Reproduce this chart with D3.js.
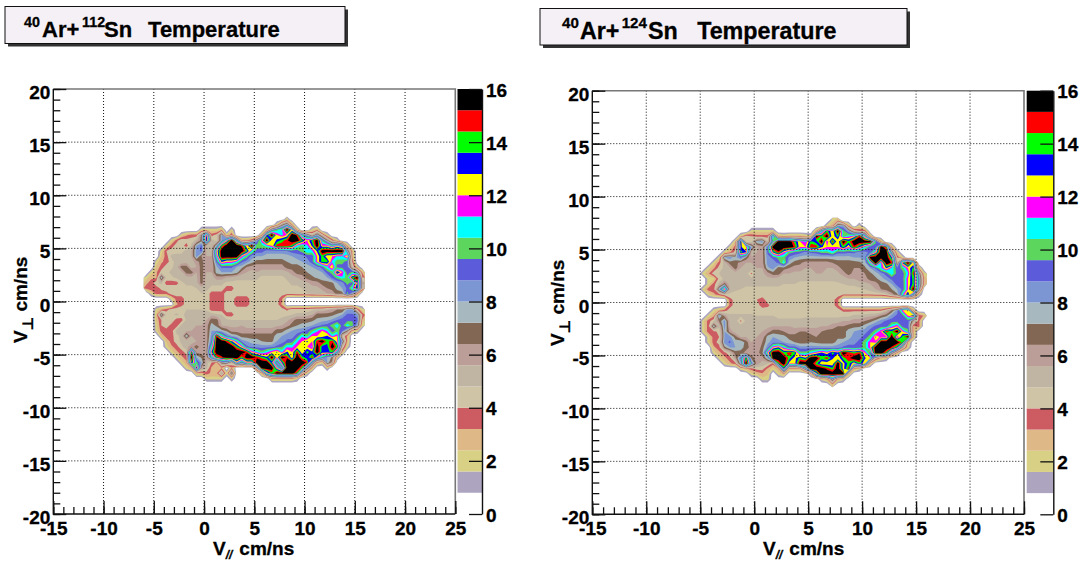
<!DOCTYPE html>
<html>
<head>
<meta charset="utf-8">
<title>Ar+Sn Temperature</title>
<script src="https://cdn.jsdelivr.net/npm/d3@7"></script>
<style>
    html, body { margin: 0; padding: 0; background: #fff; }
    svg { display: block; }
    text { font-family: "Liberation Sans", Arial, sans-serif; font-weight: bold; fill: #000; stroke: #000; stroke-width: 0.3px; }
</style>
</head>
<body>
<svg id="chart" width="1082" height="564"></svg>
<script>
// bin centres of the temperature maps, 0.5 cm/ns wide
const vParBins = [-5.75, -5.25, -4.75, -4.25, -3.75, -3.25, -2.75, -2.25, -1.75, -1.25, -0.75, -0.25, 0.25, 0.75, 1.25, 1.75, 2.25, 2.75, 3.25, 3.75, 4.25, 4.75, 5.25, 5.75, 6.25, 6.75, 7.25, 7.75, 8.25, 8.75, 9.25, 9.75, 10.25, 10.75, 11.25, 11.75, 12.25, 12.75, 13.25, 13.75, 14.25, 14.75, 15.25, 15.75];
const vPerpBins = [7.75, 7.25, 6.75, 6.25, 5.75, 5.25, 4.75, 4.25, 3.75, 3.25, 2.75, 2.25, 1.75, 1.25, 0.75, 0.25, -0.25, -0.75, -1.25, -1.75, -2.25, -2.75, -3.25, -3.75, -4.25, -4.75, -5.25, -5.75, -6.25, -6.75, -7.25, -7.75];

// 40Ar+112Sn, one row per vPerpBins entry
const tempSn112 = [
    [0,0,0,0, 0,0,0,0, 0,0,0,0, 0,0,0,0, 0,0,0,0, 0,0,0,0, 0,0,0,0, 2,0,0,0, 0,0,0,0, 0,0,0,0, 0,0,0,0],
    [0,0,0,0, 0,0,0,0, 0,0,0,0, 0,0,0,0, 0,0,0,0, 0,0,0,0, 0,0,2,6, 8,3,0,0, 0,0,0,0, 0,0,0,0, 0,0,0,0],
    [0,0,0,0, 0,0,0,0, 0,0,0,2, 2,2,2,3, 0,2,0,0, 0,0,0,0, 3,8,10,11, 16,12,3,0, 0,2,3,0, 0,0,0,0, 0,0,0,0],
    [0,0,0,0, 0,0,0,2, 3,3.6,3.6,6.8, 13,3.6,4.4,8, 2,4,0,0, 0,0,0,3, 13,16,12,11, 12,16,15,10, 8,5,8,5, 2,0,0,0, 0,0,0,0],
    [0,0,0,0, 0,2,3.6,4.8, 4.4,4.4,5.2,6.8, 14,5.2,4.4,8, 12,16,10,3, 3,4,8,12, 16,12,13,14, 15,16,16,14, 12,14,16,10, 7,4,2,0, 0,0,0,0],
    [0,0,0,0, 2,3.6,4.4,4.4, 3.6,5,8,9, 5.2,5.2,8,14, 16,16,16,15, 12,16,10,10, 11,12,15,15, 15,14,11,10, 11,13,16,12, 12,10,12,10, 3,0,0,0],
    [0,0,0,2, 4,4.4,4.4,4.4, 5.2,5.6,8.4,9, 5.2,5.2,12,16, 16,16,16,16, 14,11,9.2,9.2, 8.4,8.4,8.4,8.4, 8.8,9.2,9.2,10, 11,11,13,16, 16,16,16,16, 8,3,0,0],
    [0,0,0,2.5, 3.6,5,5.2,5.2, 5.2,5.6,8.4,6.4, 5.6,5.6,11,16, 16,16,16,12, 10,8.4,8,8, 7.6,7.6,7.6,7.6, 7.6,8,8.4,8.4, 9,9,12,14, 12,12,11,11, 13,3,0,0],
    [0,0,2,3, 3.6,4.4,5.2,5, 5.2,5.2,6,6.8, 5.6,5.6,9,13, 12,12,11,9, 8.4,7.6,6.8,6.8, 6.8,6.8,6.8,6.8, 7.2,7.6,7.6,8, 8.4,9.2,12,14, 14,11,10,10, 9,4,0,0],
    [0,0,2.5,3.6, 4.4,4.6,5.2,6.8, 6.8,5.2,5.6,6.8, 5.6,5.6,7.8,9, 9,9,8,7.6, 6.4,6,6,6, 6,6,6,6, 6.8,6.8,6.8,7.2, 7.6,8,8.4,9.2, 11,13,9.2,9.2, 9.2,5,2,0],
    [0,2,3,4.4, 4.6,5,5.2,5.2, 6.8,6.8,5.6,6.8, 5.6,5.6,7.6,8, 8,8,7.6,6, 5.6,5.2,5.6,5.2, 5.2,5.2,5.2,5.2, 5.4,6,6.8,6.8, 7.2,7.6,7.6,8, 9.2,10,14,12, 9,10,8,3],
    [2,3,3,8, 4.6,4.6,5,5.2, 5.2,5.4,5.4,6.8, 5.2,5.2,6,6, 5.6,5.4,5,5, 5,5,5,4.6, 4.6,4.6,4.6,4.6, 5,5.2,5.6,6, 6.8,7,7.4,7.6, 8,9,10,11, 10,14,16,4],
    [3,3.6,4.6,5, 3.6,3.6,3.6,4.6, 5,5,5.2,6.8, 5.2,5,5,5, 4.6,4.6,4.6,4.6, 4.6,4.6,4.6,4.6, 4.6,4.6,4.6,4.6, 4.6,5,5,5.2, 5.4,6,6,6.8, 6.8,7,8,8.4, 10,9,13,6],
    [3.6,4,3.6,4.2, 4.6,4.6,4.6,4.6, 4.6,4.6,4.8,5.2, 5,4.6,4.6,4.6, 3.6,3.6,4.6,4.6, 4.6,4.6,4.6,4.6, 4.6,4.6,4.6,4.6, 4.6,4.6,4.6,4.8, 5,5.2,5.4,5.8, 6.4,6.8,7.4,8, 9,11,14,5],
    [0,2,3.6,3.6, 3.6,4.4,4.4,4.4, 4.4,4.6,4.6,4.8, 4.6,3.6,3.6,3.6, 4.4,4.4,4.4,4.4, 4.4,4.4,4.4,4.4, 4.4,4.4,4.4,4.4, 4.4,4.4,4.6,4.6, 4.8,5,5.2,5.2, 5.6,5.8,6.8,6.8, 10,8,3.6,0],
    [0,0,0,0, 0,2,3.6,3.6, 4.4,4.4,4.2,4.6, 4.6,3.6,3.6,3.6, 4.4,4.4,3.6,3.6, 3.6,4.4,4.4,4.4, 4.4,4.4,4.4,3.4, 0,0,0,0, 0,0,0,0, 0,0,0,0, 0,0,0,0],
    [0,0,0,0, 0,0,3,3.6, 4.4,4.4,4.4,4.6, 4.6,3.6,3.6,3.6, 4.4,4.4,3.6,3.6, 3.6,4.4,4.4,4.4, 4.4,4.4,4.4,3, 0,0,0,0, 0,0,0,0, 0,0,0,0, 0,0,0,0],
    [0,0,2,3, 3.6,4.4,4.4,4.6, 4.8,4.8,4.8,4.8, 4.6,3.6,3.6,3.6, 4.4,4.4,4.4,4.4, 4.4,4.4,4.4,4.4, 4.4,4.4,4.4,4.4, 3.8,4.4,4.4,4.4, 4.4,4.6,5,5, 5.4,5.8,6.4,6.4, 8,8,4,2],
    [0,0,2.5,8, 4.6,4.6,5,4.6, 5,5,5,5.2, 5.4,5.4,5,4.8, 3.6,3.6,4.6,4.6, 4.6,4.6,4.6,4.6, 4.6,4.6,4.6,4.6, 4.6,4.8,5,5, 5.2,5.6,6.8,6.8, 6.8,7,7.4,8, 9,9,8.4,4],
    [0,0,2.5,4, 4.6,4.8,3.6,3.6, 5,5,5.2,5.4, 5.6,6.8,6.8,5.2, 5,4.8,4.8,4.8, 4.8,4.8,4.8,4.8, 4.8,4.8,4.8,5, 5.4,6,6.8,6.8, 6.8,7,7.4,7.6, 7.8,8.2,8.8,9.2, 9.2,9.5,9,3],
    [0,0,2,4, 4.6,3.6,3.6,5, 5.2,5.4,5.6,5.6, 6,7.6,7,5.6, 5.4,5.4,5.4,5.6, 5.2,5.2,5.2,5.2, 5.2,5.2,5.4,5.6, 6,6.8,7.2,7.5, 7.6,8,8.4,9, 9.2,10,11,9.2, 11,10,8,2],
    [0,0,2,3.6, 3.6,3.6,5,5, 5.4,5.6,5.6,6, 6,8,8,7.6, 7,6,6,6, 6,6,6,6, 6,6,6.8,6.8, 7.6,8,8.4,8.4, 9,10,11,12, 11,9,10,9, 7,3,2,0],
    [0,0,0,2.5, 3.6,3.6,4.6,5, 8,5.6,5.6,6, 6,8.4,15,11, 9,8,7.6,6.8, 6.8,6.8,6.8,6.8, 6.8,6.8,7.6,8, 8.4,8.4,9.2,11, 10,12,12,12, 13,11,12,5, 3,0,0,0],
    [0,0,0,0, 2.5,3.6,4.4,5, 5,5.2,5.6,6, 6,9,16,16, 15,13,11,8.5, 8,7.6,7.6,7.2, 7,7,8,8.4, 9,9.2,11,12, 13,12,15,16, 14,15,12,8, 3,0,0,0],
    [0,0,0,0, 2,3,3.6,4.6, 5.4,6,6.8,6, 6,11,16,16, 16,16,14,12, 9,8.6,8.4,8.4, 8.4,8.6,9,9.5, 11,11,12,12, 12,11,16,13.2, 13.2,16,14,5, 2,0,0,0],
    [0,0,0,0, 0,2,3,3.6, 4.4,14,6,6, 6.4,13,16,16, 16,16,16,16, 15,12,11,10, 11,12,13,11, 13,12,15,12, 14,13,16,13.2, 13.2,14,10,3, 0,0,0,0],
    [0,0,0,0, 0,0,2,3, 3.6,16,8,7, 6,10,14,15, 16,16,16,14, 16,16,15,14, 13,16,12,16, 15,12,16,14, 13,15,12,10, 8,7,2,0, 0,0,0,0],
    [0,0,0,0, 0,0,0,2, 3,14,10,8, 5.2,4,3,7, 8,5,12,9, 12,12,16,16, 16,13,8,13, 16,16,16,16, 15,9,3,2, 8,6,0,0, 0,0,0,0],
    [0,0,0,0, 0,0,0,0, 2,3,14,6, 5,3,2.5,3, 0,3,0,0, 0,0,6,16, 16,16,12,8, 16,16,16,14, 8,3,0,0, 2,0,0,0, 0,0,0,0],
    [0,0,0,0, 0,0,0,0, 0,0,3,3, 3.6,3,3,6, 2,8,0,0, 0,0,0,3, 12,14,16,16, 16,16,14,5, 2,0,0,0, 0,0,0,0, 0,0,0,0],
    [0,0,0,0, 0,0,0,0, 0,0,0,0, 2,2,2,2, 0,2,0,0, 0,0,0,0, 0,3,3,3, 3,3,2,0, 0,0,0,0, 0,0,0,0, 0,0,0,0],
    [0,0,0,0, 0,0,0,0, 0,0,0,0, 0,0,0,0, 0,0,0,0, 0,0,0,0, 0,0,0,0, 0,0,0,0, 0,0,0,0, 0,0,0,0, 0,0,0,0]
];

// 40Ar+124Sn, same binning
const tempSn124 = [
    [0,0,0,0, 0,0,0,0, 0,0,0,0, 0,0,0,0, 0,0,0,0, 0,0,0,0, 0,0,2,3, 0,0,0,0, 0,0,0,0, 0,0,0,0, 0,0,0,0],
    [0,0,0,0, 0,0,0,0, 0,0,0,0, 0,0,0,0, 0,0,0,0, 0,0,0,0, 0,2,3,8, 8,3,0,2, 0,0,0,0, 0,0,0,0, 0,0,0,0],
    [0,0,0,0, 0,0,0,0, 0,0,0,2, 2,2,2,2, 0,0,0,0, 0,0,0,3, 10,14,12,16, 10,8,5,4, 4,0,0,0, 0,0,0,0, 0,0,0,0],
    [0,0,0,0, 0,0,0,0, 0,2.5,4.5,4, 3.6,3.6,3.6,12, 3,2.5,3,3, 3,2.5,2,16, 14,16,12,14, 10,11,12,15, 11,3,0,0, 0,0,0,0, 0,0,0,0],
    [0,0,0,0, 0,0,0,0, 2.5,14,4.4,4.4, 8,8.4,5,10, 16,16,16,14, 12,11,14,13, 16,11,15,12, 16,14,16,16, 16,16,10,3, 0,0,0,0, 0,0,0,0],
    [0,0,0,0, 0,0,0,2, 3.6,13,12,8, 5.5,6,9,16, 16,16,16,15, 12,12,15,15, 13,12,12,12, 14,12,15,13, 11,9,9,16, 14,3,0,0, 0,0,0,0],
    [0,0,0,0, 0,0,2,3, 4.4,14,13,5.2, 5.6,6,9,13, 15,12,10,9.5, 9.2,8.5,9,9.2, 10,10,11,9.2, 9.2,9,9,8.5, 8.5,9,12,16, 16,8,2,0, 0,0,0,0],
    [0,0,0,0, 0,2,8,8.5, 7.6,9,7,5.6, 5.6,6,8.5,9, 10,10,8.5,8, 7.6,7.6,7.6,7.6, 7.6,7.6,7.6,7.6, 7.6,7.6,8,8, 8.4,16,16,16, 16,13,4,2, 0,0,0,0],
    [0,0,0,0, 2,3.6,5.2,6.8, 6.8,6,5.6,5.6, 5.6,6,8.4,8.4, 9,11,7.6,6.8, 6.6,6,6,6, 6,6,6.4,6.8, 6.8,6.8,6.8,7, 7.6,11,16,11, 16,15,5,13, 16,12,0,0],
    [0,0,0,2, 3,4.4,5,5.4, 6.8,5.6,5.4,5.4, 5.6,5.6,7.8,8.4, 6.8,6.8,6.4,6, 6,5.6,5.6,5.6, 5.6,5.6,5.6,6, 6.8,6.8,6.4,6.4, 7,8,9,11, 13,11,9,10, 12,14,3,0],
    [0,0,2,3, 4.6,4.8,5,5.2, 5.2,5.2,5.2,3.8, 5.2,5.4,6,6.8, 6.8,5.6,5.6,5.4, 5.4,5.2,5.2,5.6, 5.6,5.4,5.4,5.4, 6,6.8,6,6, 6.4,7,7.6,8.4, 9.2,11,9.2,9.2, 11,15,8,2],
    [0,0,0,2, 2,4.4,5,5.2, 5.2,5.2,5.2,5, 5.2,5.2,5.4,5.4, 5.2,5.2,5,5, 5,5,5,5, 5,5,5,5.2, 5.2,5.6,5.6,6, 6,6.8,7,7.6, 8.4,9,9.2,9.2, 12,14,9.2,3],
    [0,0,0,2, 3.6,5,6.8,5.2, 5,5,5,5, 5,5,5,5, 5,4.8,4.8,4.8, 4.6,4.6,4.6,4.6, 4.6,4.6,4.6,4.6, 4.8,5,5,5.2, 5.4,5.6,6,6.8, 7,8,9.2,9, 12,14,9.2,3],
    [0,0,2,3.6, 3.6,8,13,5.4, 5,4.8,4.6,4.6, 4.6,4.6,4.6,4.6, 4.6,4.6,4.6,4.6, 4.4,4.4,4.4,4.4, 4.4,4.4,4.4,4.4, 4.4,4.4,4.4,4.6, 4.8,5.2,5.6,6.4, 6.8,7.2,8,9, 12,16,8,0],
    [0,0,0,2, 3,3.6,4.6,4.6, 4.4,4.4,4.4,4.4, 4.4,4.4,4.4,4.4, 4.4,4.4,4.4,4.4, 4.4,4.4,4.4,4.4, 4.4,4.4,4.4,4.4, 4,4,4,4, 4,4,4.2,4.2, 4.6,6,7,11, 14,9,2,0],
    [0,0,0,0, 0,0,0,3.6, 4.4,4.4,4.4,4.4, 4,3.6,4.4,4.4, 4.4,4.4,4.4,4.4, 4.4,4.4,4.4,4.4, 4.4,4.4,4.4,3.4, 0,0,0,0, 0,0,0,0, 0,0,0,0, 0,0,0,0],
    [0,0,0,0, 0,0,0,3.6, 4.4,4.4,4.4,4.4, 4.4,3.6,3.8,4.4, 4.4,4.4,4.4,4.4, 4.4,4.4,4.4,4.4, 4.4,4.4,4.4,3.4, 0,0,0,0, 0,0,0,0, 0,0,0,0, 0,0,0,0],
    [0,0,0,0, 2,3,3.6,4.4, 4.4,4.4,4.4,4.4, 4.4,4.4,4.4,4.4, 4.4,4.4,4.4,4.4, 4.4,4.4,4.4,4.4, 4.4,4.4,4.4,4.4, 3.8,3.8,3.8,3.8, 3.8,3.8,3.8,3.8, 5,6.5,8.4,12, 13,3,0,0],
    [0,0,0,2, 3,8.4,6,5, 5,5,5,5, 4.8,4.8,4.8,4.8, 4.6,4.6,4.6,4.6, 4.6,4.6,4.6,4.6, 4.6,4.6,4.6,4.6, 4.6,4.6,5,5, 5.2,5.4,5.6,6.4, 7,8.4,9,9.2, 12,14,4,3],
    [0,0,2,3.6, 4.6,6.5,8.4,5.2, 5.2,3.8,5,5, 5,5,5,5, 5,5,5,5, 5,5.2,5.2,5.2, 5.2,5.2,5.2,5.2, 5.6,5.6,6,6, 6.4,6.8,7.6,8.4, 9,9.2,9.2,9.2, 9.2,6,3.6,0],
    [0,0,2,3.6, 8,5,8.4,5.4, 5.2,5.2,5.2,5.2, 5,5.2,5.4,5.6, 5.6,5.6,5.6,5.4, 5.4,5.4,5.4,5.4, 5.6,5.6,6,6.4, 6.4,6.8,7,7, 7.6,8.4,9,9.2, 9.2,11,12,9.2, 9.2,3,3.6,0],
    [0,0,2,3.6, 3.6,4.4,8,6, 5.2,5.4,5.2,5.2, 5.4,5.6,6,6.8, 6.8,6.4,6,6, 6.4,6.4,6,6, 6.4,6.8,6.8,6.8, 6.8,7.6,8,8.4, 8.4,9.2,10,12, 15,14,16,12, 10,3,0,0],
    [0,0,0,2, 3.6,4,8,8.4, 6.8,5.6,5.6,5.4, 5.6,5.8,7.6,8, 7.6,7.6,6.8,6.8, 6.8,6.8,6.8,6.4, 6.8,6.8,6.8,7, 6.8,7.6,8.4,8.4, 9.2,10,13,11.6, 11.6,16,11,14, 16,3,0,0],
    [0,0,0,2, 3.6,4.4,8.4,9, 7.6,8,6.8,5.6, 5.6,6.4,7.8,8.4, 8.4,8,7.6,7.2, 6.8,6.8,7.2,7, 6.8,6.8,6.8,7.6, 8,8.4,8.4,9.2, 10,12,11.6,16, 16,16,16,14, 3,0,0,0],
    [0,0,0,0, 3,3.6,6.8,8, 8,7.6,6.8,6, 5.6,6.8,8.5,12, 13,11,9.2,9.2, 8.4,8.4,8.4,8.4, 8.4,8.4,8.4,8.4, 9,9.2,9.2,9.2, 10,12,16,16, 16,15,13,6, 2,0,0,0],
    [0,0,0,0, 2,3,3.6,5, 6.8,6.8,6,6, 6,7,12,16, 16,14,15,14, 10,10,11,12, 13,12,14,13, 16,15,14,15, 12,9,16,16, 14,8,3,0, 0,0,0,0],
    [0,0,0,0, 0,2,3,3.6, 6,9,14,6.8, 6,6,8,16, 16,16,14,12.4, 14,13,16,16, 14,15,13,12, 14,15,16,16, 13,12,5,3, 2,0,0,0, 0,0,0,0],
    [0,0,0,0, 0,0,2,3, 3.6,8,16,9, 6,5.2,5,3.6, 14,16,12.4,12.4, 16,16,16,14, 12,12,12,16, 12.4,14,12,14, 12,3,0,0, 0,0,0,0, 0,0,0,0],
    [0,0,0,0, 0,0,0,0, 0,2,3,3.6, 4.4,4.4,3,2, 3,13,3,3, 3,8,16,16, 16,15,14,16, 12.4,15,3,2, 0,0,0,0, 0,0,0,0, 0,0,0,0],
    [0,0,0,0, 0,0,0,0, 0,0,0,2, 2.5,3,2.5,0, 2,3,0,0, 0,0,2,12, 16,16,16,16, 16,3,0,0, 0,0,0,0, 0,0,0,0, 0,0,0,0],
    [0,0,0,0, 0,0,0,0, 0,0,0,0, 0,2,2,0, 0,0,0,0, 0,0,0,0, 2,3,8,3, 2,0,0,0, 0,0,0,0, 0,0,0,0, 0,0,0,0],
    [0,0,0,0, 0,0,0,0, 0,0,0,0, 0,0,0,0, 0,0,0,0, 0,0,0,0, 0,0,3,0, 0,0,0,0, 0,0,0,0, 0,0,0,0, 0,0,0,0]
];

// contour levels and the colour above each one
const tempLevels = [0.8, 1.6, 2.4, 3.2, 4, 4.8, 5.6, 6.4, 7.2, 8, 8.8, 9.6, 10.4, 11.2, 12, 12.8, 13.6, 14.4, 15.2];
const levelColors = ['#ada5c0', '#d8d084', '#deb887', '#cd5c62', '#cfc4a6', '#c0b5a2', '#bc9e98', '#836755', '#a8b8bf', '#7b96d2', '#5c5cdb', '#5cd65c', '#00ffff', '#ff00ff', '#ffff00', '#0000ff', '#00ff00', '#ff0000', '#000000'];

const xMajorTicks = [-15, -10, -5, 0, 5, 10, 15, 20, 25];
const yMajorTicks = [-20, -15, -10, -5, 0, 5, 10, 15, 20];
const barTicks = [0, 2, 4, 6, 8, 10, 12, 14, 16];

const svg = d3.select('#chart');
const plainLabel = (d) => `${d}`; // root draws a short hyphen, not d3's minus sign

function drawAxis(g, axis) {
    g.call(axis);
    g.selectAll('.domain').attr('stroke', 'none');
    g.selectAll('.tick line').attr('stroke', '#111').attr('stroke-width', 1.3);
}

function styleLabels(g, x, dy) {
    g.selectAll('text')
        .attr('x', x).attr('y', 0).attr('dy', 0)
        .attr('transform', `translate(0,${dy})`)
        .attr('font-size', 19)
        .style('font-family', '"Liberation Sans", Arial, sans-serif');
}

function drawTitle(p) {
    const box = p.title;
    svg.append('rect')
        .attr('x', box.x + 3).attr('y', box.y + 3)
        .attr('width', box.w).attr('height', box.h)
        .attr('fill', '#333');
    svg.append('rect')
        .attr('x', box.x).attr('y', box.y)
        .attr('width', box.w).attr('height', box.h)
        .attr('fill', '#f5f0f6').attr('stroke', '#111').attr('stroke-width', 1);

    const t = svg.append('text').attr('y', box.base).attr('font-size', box.fs);
    const at = (em) => box.tx + em * box.fs;
    const sup = box.fs * 0.65;
    t.append('tspan').attr('x', at(0)).attr('y', box.base - box.fs * 0.46).attr('font-size', sup).text('40');
    t.append('tspan').attr('x', at(box.em[0])).attr('y', box.base).text('Ar+');
    t.append('tspan').attr('x', at(box.em[1])).attr('y', box.base - box.fs * 0.46).attr('font-size', sup).text(p.mass);
    t.append('tspan').attr('x', at(box.em[2])).attr('y', box.base).text('Sn');
    t.append('tspan').attr('x', at(box.em[3])).attr('y', box.base).text('Temperature');
}

function drawPanel(p) {
    drawTitle(p);

    const x = d3.scaleLinear().domain([-15, 25]).range([p.left, p.right]);
    const y = d3.scaleLinear().domain([-20, 20]).range([p.bottom, p.top]);

    // contour grid coordinates -> data -> pixels
    const nx = vParBins.length;
    const ny = vPerpBins.length;
    const binX = (gx) => vParBins[0] - 0.25 + gx * (vParBins[1] - vParBins[0]);
    const binY = (gy) => vPerpBins[0] + 0.25 + gy * (vPerpBins[1] - vPerpBins[0]);
    const project = d3.geoTransform({
        point(gx, gy) {
            this.stream.point(x(binX(gx)), y(binY(gy)));
        }
    });
    const path = d3.geoPath(project);

    const bands = d3.contours()
        .size([nx, ny])
        .thresholds(tempLevels)(p.temp.flat());

    svg.append('g')
        .selectAll('path')
        .data(bands)
        .join('path')
        .attr('d', path)
        .attr('fill-rule', 'evenodd')
        .attr('fill', (d, i) => levelColors[i]);

    // dotted grid goes over the map
    const grid = svg.append('g')
        .attr('stroke', '#111')
        .attr('stroke-width', 1)
        .attr('stroke-dasharray', '1,2');
    grid.selectAll('.gx')
        .data(xMajorTicks.slice(1, -1))
        .join('line')
        .attr('x1', (d) => x(d)).attr('x2', (d) => x(d))
        .attr('y1', p.top).attr('y2', p.bottom);
    grid.selectAll('.gy')
        .data(yMajorTicks.slice(1, -1))
        .join('line')
        .attr('x1', p.left).attr('x2', p.right)
        .attr('y1', (d) => y(d)).attr('y2', (d) => y(d));

    // frame
    svg.append('path')
        .attr('d', `M${p.left},${p.top}H${p.right}V${p.bottom}`)
        .attr('fill', 'none').attr('stroke', '#777').attr('stroke-width', 1.6);
    svg.append('path')
        .attr('d', `M${p.left},${p.top}V${p.bottom}H${p.right}`)
        .attr('fill', 'none').attr('stroke', '#111').attr('stroke-width', 1.4);

    // minor then major ticks, both pointing inwards
    drawAxis(svg.append('g').attr('transform', `translate(0,${p.bottom})`),
        d3.axisBottom(x).tickValues(d3.range(-15, 26)).tickSize(-7).tickFormat(''));
    drawAxis(svg.append('g').attr('transform', `translate(${p.left},0)`),
        d3.axisLeft(y).tickValues(d3.range(-20, 21)).tickSize(-7).tickFormat(''));

    const xAxis = svg.append('g').attr('transform', `translate(0,${p.bottom})`);
    drawAxis(xAxis, d3.axisBottom(x).tickValues(xMajorTicks).tickSize(-13).tickFormat(plainLabel));
    styleLabels(xAxis, 0, 21);

    const yAxis = svg.append('g').attr('transform', `translate(${p.left},0)`);
    drawAxis(yAxis, d3.axisLeft(y).tickValues(yMajorTicks).tickSize(-13).tickFormat(plainLabel));
    styleLabels(yAxis, -3, 9.5);

    // axis titles
    const xt = svg.append('text').attr('x', p.xTitleX).attr('y', 555).attr('font-size', 19);
    xt.append('tspan').text('V');
    xt.append('tspan').attr('font-size', 12).attr('font-style', 'italic').attr('dy', 4).text('//');
    xt.append('tspan').attr('dy', -4).attr('dx', 7).text('cm/ns');

    const yt = svg.append('text')
        .attr('transform', `translate(${p.yTitleX},${p.yTitleY}) rotate(-90)`)
        .attr('font-size', 19);
    yt.append('tspan').text('V');
    yt.append('tspan').attr('font-size', 15).attr('dy', 6)
        .style('font-family', '"DejaVu Sans", sans-serif').text('\u22a5');
    yt.append('tspan').attr('dy', -6).attr('dx', 5).text('cm/ns');

    // colour bar
    const z = d3.scaleLinear().domain([0, 16]).range([p.bottom, p.top]);
    const upper = (i) => (i + 1 < tempLevels.length ? tempLevels[i + 1] : 16);
    svg.append('g')
        .selectAll('rect')
        .data(tempLevels)
        .join('rect')
        .attr('x', p.barLeft)
        .attr('width', p.barRight - p.barLeft)
        .attr('y', (d, i) => z(upper(i)))
        .attr('height', (d, i) => z(d) - z(upper(i)))
        .attr('fill', (d, i) => levelColors[i]);

    const barAxis = svg.append('g').attr('transform', `translate(${p.barRight},0)`);
    barAxis.call(d3.axisRight(z).tickValues(barTicks).tickSize(-13).tickSizeOuter(0).tickFormat(plainLabel));
    barAxis.select('.domain').attr('stroke', '#111').attr('stroke-width', 1.4);
    barAxis.selectAll('.tick line').attr('stroke', '#111').attr('stroke-width', 1.3);
    styleLabels(barAxis, 4, 7);
}

drawPanel({
    temp: tempSn112, mass: '112',
    left: 53.3, right: 455.3, top: 89, bottom: 514,
    barLeft: 457.5, barRight: 482,
    xTitleX: 213, yTitleX: 27, yTitleY: 343,
    title: { x: 5, y: 6.5, w: 340, h: 37, tx: 24, base: 37, fs: 22, em: [0.82, 2.64, 3.64, 5.64] }
});
drawPanel({
    temp: tempSn124, mass: '124',
    left: 592.3, right: 1024, top: 90.7, bottom: 514.3,
    barLeft: 1026.7, barRight: 1053.3,
    xTitleX: 763, yTitleX: 564, yTitleY: 346,
    title: { x: 540, y: 8.5, w: 367, h: 36.5, tx: 562, base: 39, fs: 23.3, em: [0.77, 2.56, 3.69, 5.8] }
});
</script>
</body>
</html>
